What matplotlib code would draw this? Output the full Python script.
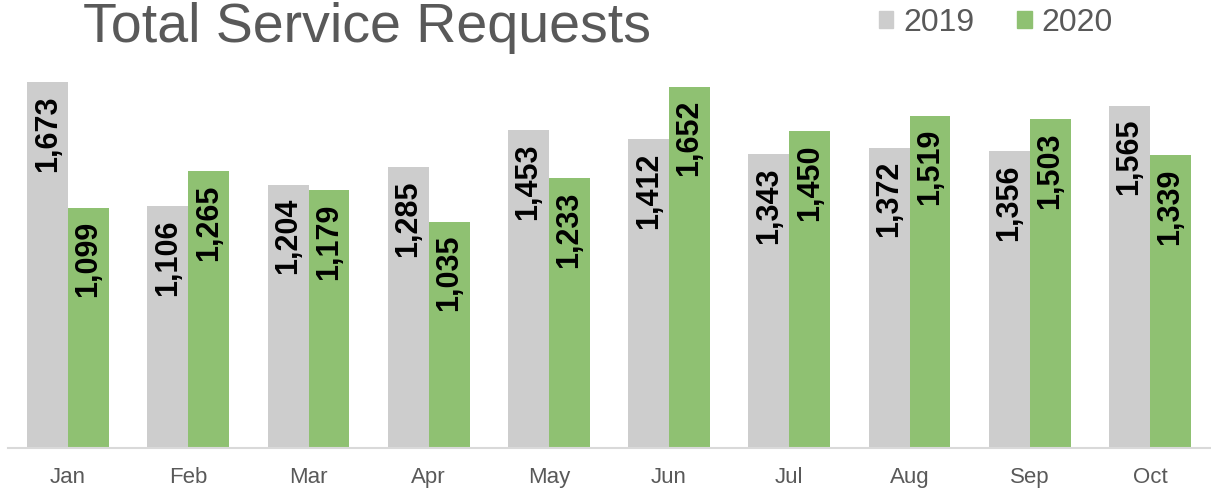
import matplotlib
matplotlib.use('Agg')
import matplotlib.pyplot as plt
import numpy as np
from matplotlib.patches import Patch

plt.rcParams['font.family'] = ['Liberation Sans', 'DejaVu Sans']

months = ['Jan', 'Feb', 'Mar', 'Apr', 'May', 'Jun', 'Jul', 'Aug', 'Sep', 'Oct']
requests_2019 = [1673, 1106, 1204, 1285, 1453, 1412, 1343, 1372, 1356, 1565]
requests_2020 = [1099, 1265, 1179, 1035, 1233, 1652, 1450, 1519, 1503, 1339]

grey = '#cdcdcd'
green = '#8fc172'
text_grey = '#595959'

W, H = 1211, 493
fig = plt.figure(figsize=(W / 100, H / 100), dpi=100)
ax = fig.add_axes([8 / W, (H - 448) / H, 1202 / W, (448 - 70) / H])

x = np.arange(len(months))
bw = 0.34
b1 = ax.bar(x - bw / 2, requests_2019, width=bw, color=grey)
b2 = ax.bar(x + bw / 2, requests_2020, width=bw, color=green)

# value labels, rotated, inside the top of each bar
for bars, vals in ((b1, requests_2019), (b2, requests_2020)):
    for rect, v in zip(bars, vals):
        ax.annotate(f'{v:,}', (rect.get_x() + rect.get_width() / 2, v),
                    xytext=(0, -9.5), textcoords='offset points',
                    rotation=90, ha='center', va='top',
                    fontsize=22, fontweight='bold', color='black')

ax.set_xlim(-0.5, len(months) - 0.5)
ax.set_ylim(0, 1728)
ax.set_xticks(x)
ax.set_xticklabels(months, fontsize=16, color=text_grey)
ax.tick_params(axis='x', length=0, pad=14)
ax.set_yticks([])
for s in ['top', 'right', 'left']:
    ax.spines[s].set_visible(False)
ax.spines['bottom'].set_color('#d9d9d9')
ax.spines['bottom'].set_linewidth(1.5)

fig.text(83 / W, 1 - 42 / H, 'Total Service Requests', fontsize=40,
         color=text_grey, va='baseline', ha='left')

handles = [Patch(color=grey, label='2019'), Patch(color=green, label='2020')]
fig.legend(handles=handles, ncol=2, frameon=False, loc='center left',
           bbox_to_anchor=(879 / W, 1 - 23 / H), fontsize=23,
           handlelength=0.45, handleheight=0.45, handletextpad=0.3,
           columnspacing=1.35, labelcolor=text_grey, borderpad=0,
           borderaxespad=0)

fig.savefig('out.png', dpi=100)
